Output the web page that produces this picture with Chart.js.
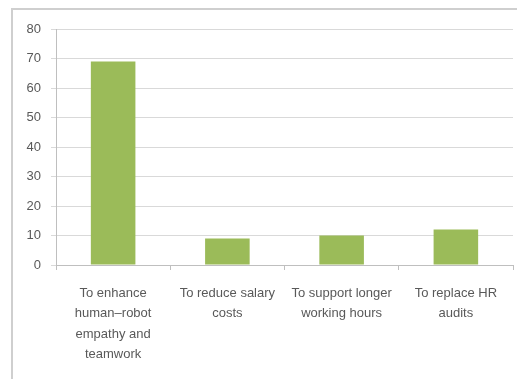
<!DOCTYPE html>
<html>
<head>
<meta charset="utf-8">
<script src="https://cdn.jsdelivr.net/npm/chart.js@4"></script>
<style>
  html, body { margin: 0; padding: 0; background: #fff; }
  #wrap { position: relative; width: 517px; height: 379px; overflow: hidden; }
  #frame {
    position: absolute; left: 11px; top: 8px; width: 520px; height: 390px;
    border-left: 2px solid #cfcfcf; border-top: 2px solid #cfcfcf;
    box-sizing: border-box;
  }
  canvas { position: absolute; left: 0; top: 0; }
</style>
</head>
<body>
<div id="wrap">
  <div id="frame"></div>
  <canvas id="chart" width="517" height="379"></canvas>
</div>
<script>
const categories = [
  ['To enhance', 'human\u2013robot', 'empathy and', 'teamwork'],
  ['To reduce salary', 'costs'],
  ['To support longer', 'working hours'],
  ['To replace HR', 'audits']
]
const values = [69, 9, 10, 12]
const yTicks = [0, 10, 20, 30, 40, 50, 60, 70, 80]

const fontFamily = '"Liberation Sans", Arial, sans-serif'

const config = {
  type: 'bar',
  data: {
    labels: categories,
    datasets: [{
      data: values,
      backgroundColor: '#9bbb59',
      borderWidth: 0,
      barPercentage: 0.39,
      categoryPercentage: 1
    }]
  },
  options: {
    responsive: false,
    animation: false,
    layout: { padding: { top: 29, right: 4, left: 0, bottom: 0 } },
    plugins: {
      legend: { display: false },
      tooltip: { enabled: false }
    },
    scales: {
      x: {
        grid: {
          offset: true,
          drawOnChartArea: false,
          color: '#bfbfbf',
          tickLength: 5
        },
        border: { color: '#bfbfbf' },
        ticks: {
          color: '#595959',
          padding: 13,
          maxRotation: 0,
          autoSkip: false,
          font: { family: fontFamily, size: 13, lineHeight: 1.58 }
        },
        afterFit: (scale) => { scale.height = 379 - 265 }
      },
      y: {
        min: 0,
        max: 80,
        afterBuildTicks: (scale) => { scale.ticks = yTicks.map(v => ({ value: v })) },
        grid: {
          color: '#d9d9d9',
          tickLength: 5
        },
        border: { color: '#bfbfbf' },
        ticks: {
          color: '#595959',
          padding: 10,
          font: { family: fontFamily, size: 13 }
        },
        afterFit: (scale) => { scale.width = 56 }
      }
    }
  }
}

new Chart(document.getElementById('chart'), config)
</script>
</body>
</html>
